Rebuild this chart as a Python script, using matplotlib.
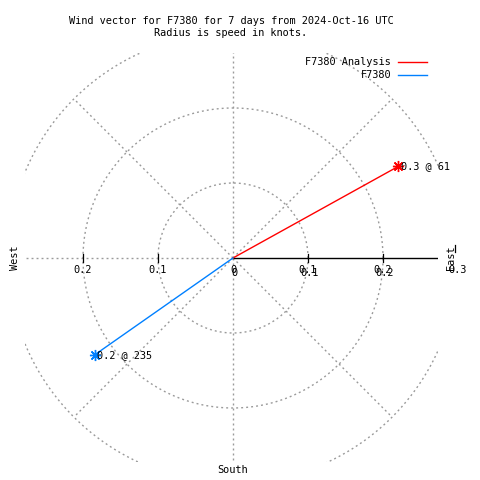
import numpy as np
import matplotlib
matplotlib.use("Agg")
import matplotlib.pyplot as plt

# wind vectors: speed (knots) and direction (degrees, compass)
names = ["F7380 Analysis", "F7380"]
speeds = [0.252, 0.225]
directions = [61, 235]
colors = ["#ff0000", "#0080ff"]

rings = [0.1, 0.2, 0.3]
spokes = [0, 45, 90, 135, 180, 225, 270, 315]
rtick_vals = [-0.2, -0.1, 0.0, 0.1, 0.2, 0.3]
rtick_labels = ["0.2", "0.1", "0", "0.1", "0.2", "0.3"]
xtick_vals = [0.0, 0.1, 0.2]
xtick_labels = ["0", "0.1", "0.2"]

title = "Wind vector for F7380 for 7 days from 2024-Oct-16 UTC\nRadius is speed in knots."

plt.rcParams["font.family"] = ["DejaVu Sans Mono"]
fs = 7.4
grid_kw = dict(color="#9a9a9a", lw=1.0, linestyle=(0, (1.4, 2.2)))

W = 480.0
fig = plt.figure(figsize=(4.8, 4.8), dpi=100)
ax = fig.add_axes([25 / W, 18 / W, 413 / W, 409 / W])
ax.set_xlim(-208 / 750, 205 / 750)
ax.set_ylim(-204 / 750, 205 / 750)
ax.axis("off")

# polar grid
t = np.linspace(0, 2 * np.pi, 400)
for r in rings:
    ax.plot(r * np.cos(t), r * np.sin(t), **grid_kw)
for a in spokes:
    if a == 90:
        continue  # east half drawn as solid axis
    th = np.radians(90 - a)
    ax.plot([0, 0.3 * np.cos(th)], [0, 0.3 * np.sin(th)], **grid_kw)

# solid r axis towards east with ticks
ax.plot([0, 0.3], [0, 0], color="black", lw=1.0)
for v in [-0.2, -0.1, 0.1, 0.2]:
    ax.plot([v, v], [-0.0055, 0.0055], color="black", lw=0.9)
ax.plot([0.296, 0.296], [0.008, 0.017], color="black", lw=0.9, clip_on=False)

# tick labels (r tics and x tics overlap, as in the original)
for v, lab in zip(rtick_vals, rtick_labels):
    ax.text(v, -0.0165, lab, ha="center", va="center", fontsize=fs, clip_on=False)
for v, lab in zip(xtick_vals, xtick_labels):
    ax.text(v + 0.0015, -0.0195, lab, ha="center", va="center", fontsize=fs, clip_on=False)

# vectors
for name, s, d, c in zip(names, speeds, directions, colors):
    th = np.radians(90 - d)
    x, y = s * np.cos(th), s * np.sin(th)
    ax.plot([0, x], [0, y], color=c, lw=1.0)
    ax.plot([x], [y], marker=(8, 2, 0), color=c, markersize=8, markeredgewidth=1.0)
    ax.text(x + 0.003, y, f"{s:.1f} @ {d}", ha="left", va="center", fontsize=fs)

# compass labels
fig.text(15 / W, 1 - 258 / W, "West", rotation=90, ha="center", va="center", fontsize=fs)
fig.text(451 / W, 1 - 258 / W, "East", rotation=90, ha="center", va="center", fontsize=fs)
fig.text(233 / W, 1 - 470 / W, "South", ha="center", va="center", fontsize=fs)

# legend
for i, (name, c) in enumerate(zip(names, colors)):
    yy = 1 - (62 + 13 * i) / W
    fig.text(391 / W, yy, name, ha="right", va="center", fontsize=fs)
    fig.add_artist(plt.Line2D([398 / W, 427 / W], [yy, yy], color=c, lw=1.0))

fig.text(231 / W, 1 - 27 / W, title, ha="center", va="center", fontsize=fs,
         linespacing=1.15)

fig.savefig("out.png", dpi=100)
